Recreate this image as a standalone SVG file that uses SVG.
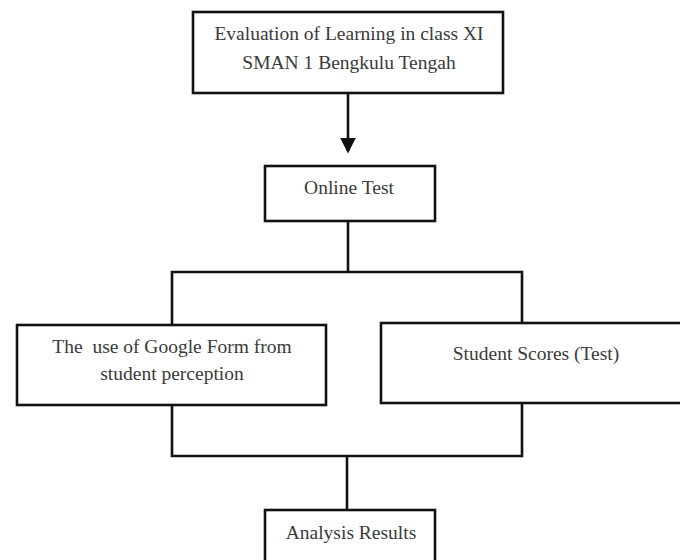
<svg xmlns="http://www.w3.org/2000/svg" width="680" height="560" viewBox="0 0 680 560">
<style>
.box{fill:#fff;stroke:#111;stroke-width:2.6}
.ln{fill:none;stroke:#111;stroke-width:2.6}
.t{font-family:"Liberation Serif","Times New Roman",serif;font-size:19.5px;fill:#3a3a3a;text-anchor:middle;white-space:pre}
</style>
<defs>
<marker id="ah" markerWidth="6" markerHeight="6" refX="5" refY="3" orient="auto" markerUnits="strokeWidth">
<path d="M0,0 L6,3 L0,6 z" fill="#111"/>
</marker>
</defs>
<rect width="680" height="560" fill="#fff"/>
<g id="connectors">
<line class="ln" x1="348" y1="93" x2="348" y2="151" marker-end="url(#ah)"/>
<line class="ln" x1="348" y1="221" x2="348" y2="272"/>
<polyline class="ln" points="172,325 172,272 522,272 522,323"/>
<polyline class="ln" points="172,405 172,456 522,456 522,403"/>
<line class="ln" x1="347" y1="456" x2="347" y2="510"/>
</g>
<g id="evaluation">
<rect class="box" x="193" y="12" width="310" height="81"/>
<text class="t" x="349" y="40">Evaluation of Learning in class XI</text>
<text class="t" x="349" y="69">SMAN 1 Bengkulu Tengah</text>
</g>
<g id="online-test">
<rect class="box" x="265" y="166" width="170" height="55"/>
<text class="t" x="349" y="194">Online Test</text>
</g>
<g id="google-form">
<rect class="box" x="17" y="325" width="309" height="80"/>
<text class="t" x="172" y="353" xml:space="preserve">The  use of Google Form from</text>
<text class="t" x="172" y="380">student perception</text>
</g>
<g id="student-scores">
<rect class="box" x="381" y="323" width="310" height="80"/>
<text class="t" x="536" y="360">Student Scores (Test)</text>
</g>
<g id="analysis">
<rect class="box" x="265" y="510" width="170" height="70"/>
<text class="t" x="351" y="539">Analysis Results</text>
</g>
</svg>
